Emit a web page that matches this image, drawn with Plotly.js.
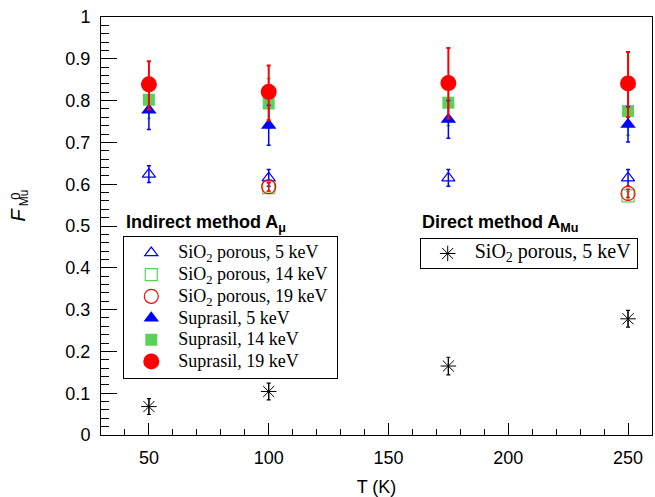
<!DOCTYPE html>
<html>
<head>
<meta charset="utf-8">
<script src="https://cdn.plot.ly/plotly-3.0.1.min.js"></script>
<style>html,body{margin:0;padding:0;background:#fff;}#chart{width:655px;height:497px;}</style>
</head>
<body>
<div id="chart"></div>
<script>
// ---- data ----
const T = [50, 100, 175, 250];
const Tpor = [100, 250];

const supra5 = [0.777, 0.741, 0.755, 0.743];
const supra5Err = [0.046, 0.048, 0.045, 0.042];
const supra14 = [0.802, 0.793, 0.795, 0.775];
const supra14Err = [0.045, 0.060, 0.055, 0.058];
const supra19 = [0.839, 0.821, 0.842, 0.841];
const supra19ErrPlus = [0.055, 0.063, 0.084, 0.075];
const supra19ErrMinus = [0.060, 0.068, 0.085, 0.080];

const por5 = [0.624, 0.615, 0.615, 0.615];
const por5Err = [0.020, 0.020, 0.020, 0.020];
const por14 = [0.592, 0.572];
const por14Err = [0.010, 0.010];
const por19 = [0.594, 0.578];
const por19Err = [0.010, 0.010];

const direct5 = [0.068, 0.104, 0.165, 0.278];
const direct5Err = [0.019, 0.020, 0.021, 0.020];

const names = [
  'SiO<sub>2</sub> porous, 5 keV',
  'SiO<sub>2</sub> porous, 14 keV',
  'SiO<sub>2</sub> porous, 19 keV',
  'Suprasil, 5 keV',
  'Suprasil, 14 keV',
  'Suprasil, 19 keV'
];
const directName = 'SiO<sub>2</sub> porous, 5 keV';

const BLUE = '#0000ff', GREEN = '#5ad25a', RED = '#ff0000';

function lbl(s, fs) { return '<span style="font-size:' + fs + 'px">' + s + '&nbsp;</span>'; }

function tr(x, y, ep, em, name, rank, symbol, size, color, open, ethick) {
  return {
    type: 'scatter', mode: 'markers', x: x, y: y, name: lbl(name, 18),
    legend: 'legend', legendrank: rank,
    marker: { symbol: symbol, size: size, color: color,
      line: { color: color, width: open ? 1.2 : 0 } },
    error_y: { type: 'data', symmetric: false, array: ep, arrayminus: em,
      color: color, thickness: ethick || 1.5, width: 2 }
  };
}

const data = [
  tr(T, por5, por5Err, por5Err, names[0], 1, 'triangle-up-open', 11.5, BLUE, true),
  tr(Tpor, por14, por14Err, por14Err, names[1], 2, 'square-open', 12, GREEN, true),
  tr(Tpor, por19, por19Err, por19Err, names[2], 3, 'circle-open', 14, RED, true),
  tr(T, supra14, supra14Err, supra14Err, names[4], 5, 'square', 12, GREEN, false),
  tr(T, supra5, supra5Err, supra5Err, names[3], 4, 'triangle-up', 13.5, BLUE, false),
  tr(T, supra19, supra19ErrPlus, supra19ErrMinus, names[5], 6, 'circle', 16, RED, false, 2),
  {
    type: 'scatter', mode: 'markers', x: T, y: direct5,
    name: '<span style="font-size:20px">' + directName + '</span>',
    legend: 'legend2',
    marker: { symbol: 'asterisk-open', size: 13, color: '#000', line: { color: '#000', width: 1 } },
    error_y: { type: 'data', array: direct5Err, color: '#000', thickness: 1.2, width: 2 }
  }
];

const L = 101, R = 652.5, TOP = 16.5, BOT = 435.5;
const W = 655, H = 497;
const px = v => (v - L) / (R - L);
const py = v => (BOT - v) / (BOT - TOP);

const legendCommon = {
  bgcolor: '#fff', bordercolor: '#000', borderwidth: 1,
  font: { family: 'Liberation Serif, Times New Roman, serif', size: 14.4, color: '#000' },
  itemwidth: 44, xanchor: 'left', yanchor: 'top', itemclick: false
};

const layout = {
  width: W, height: H,
  margin: { l: L, r: W - R, t: TOP, b: H - BOT, pad: 0 },
  paper_bgcolor: '#fff', plot_bgcolor: '#fff',
  showlegend: true,
  font: { family: 'Liberation Sans, Arial, Helvetica, sans-serif', color: '#000' },
  xaxis: {
    range: [30, 260], tickvals: [50, 100, 150, 200, 250],
    ticks: 'inside', ticklen: 12.5, tickwidth: 1, tickcolor: '#000',
    minor: { dtick: 10, tick0: 0, ticks: 'inside', ticklen: 6, tickwidth: 1, tickcolor: '#000' },
    showline: true, mirror: true, linecolor: '#000', linewidth: 1,
    showgrid: false, zeroline: false,
    tickfont: { size: 18, family: 'Liberation Sans, Arial, sans-serif' },
    ticklabelstandoff: 6,
    title: { text: 'T (K)', font: { size: 18, family: 'Liberation Sans, Arial, sans-serif' }, standoff: 14 }
  },
  yaxis: {
    range: [0, 1], tickvals: [0, 0.1, 0.2, 0.3, 0.4, 0.5, 0.6, 0.7, 0.8, 0.9, 1],
    ticktext: ['0', '0.1', '0.2', '0.3', '0.4', '0.5', '0.6', '0.7', '0.8', '0.9', '1'],
    ticks: 'inside', ticklen: 16, tickwidth: 1, tickcolor: '#000',
    minor: { dtick: 0.02, tick0: 0, ticks: 'inside', ticklen: 8, tickwidth: 1, tickcolor: '#000' },
    showline: true, mirror: true, linecolor: '#000', linewidth: 1,
    showgrid: false, zeroline: false,
    tickfont: { size: 18, family: 'Liberation Sans, Arial, sans-serif' },
    ticklabelstandoff: 6
  },
  legend: Object.assign({}, legendCommon, { x: px(123.3), y: py(236) }),
  legend2: Object.assign({}, legendCommon, { x: px(420), y: py(238),
    font: { family: 'Liberation Serif, Times New Roman, serif', size: 12, color: '#000' } }),
  annotations: [
    { xref: 'paper', yref: 'paper', x: px(124), y: py(223), xanchor: 'left', yanchor: 'middle',
      text: '<b>Indirect method A<sub>μ</sub></b>', showarrow: false,
      font: { size: 18, family: 'Liberation Sans, Arial, sans-serif', color: '#000' } },
    { xref: 'paper', yref: 'paper', x: px(420.7), y: py(223), xanchor: 'left', yanchor: 'middle',
      text: '<b>Direct method A<sub>Mu</sub></b>', showarrow: false,
      font: { size: 18, family: 'Liberation Sans, Arial, sans-serif', color: '#000' } },
    { xref: 'paper', yref: 'paper', x: px(17.7), y: py(214.7), xanchor: 'center', yanchor: 'middle',
      text: '<i>F</i>', textangle: -90, showarrow: false,
      font: { size: 20, family: 'Liberation Sans, Arial, sans-serif', color: '#000' } },
    { xref: 'paper', yref: 'paper', x: px(14.5), y: py(196), xanchor: 'center', yanchor: 'middle',
      text: '0', textangle: -90, showarrow: false,
      font: { size: 13, family: 'Liberation Sans, Arial, sans-serif', color: '#000' } },
    { xref: 'paper', yref: 'paper', x: px(24), y: py(198), xanchor: 'center', yanchor: 'middle',
      text: 'Mu', textangle: -90, showarrow: false,
      font: { size: 12, family: 'Liberation Sans, Arial, sans-serif', color: '#000' } }
  ]
};

Plotly.newPlot('chart', data, layout, { staticPlot: true, displayModeBar: false });
</script>
</body>
</html>
